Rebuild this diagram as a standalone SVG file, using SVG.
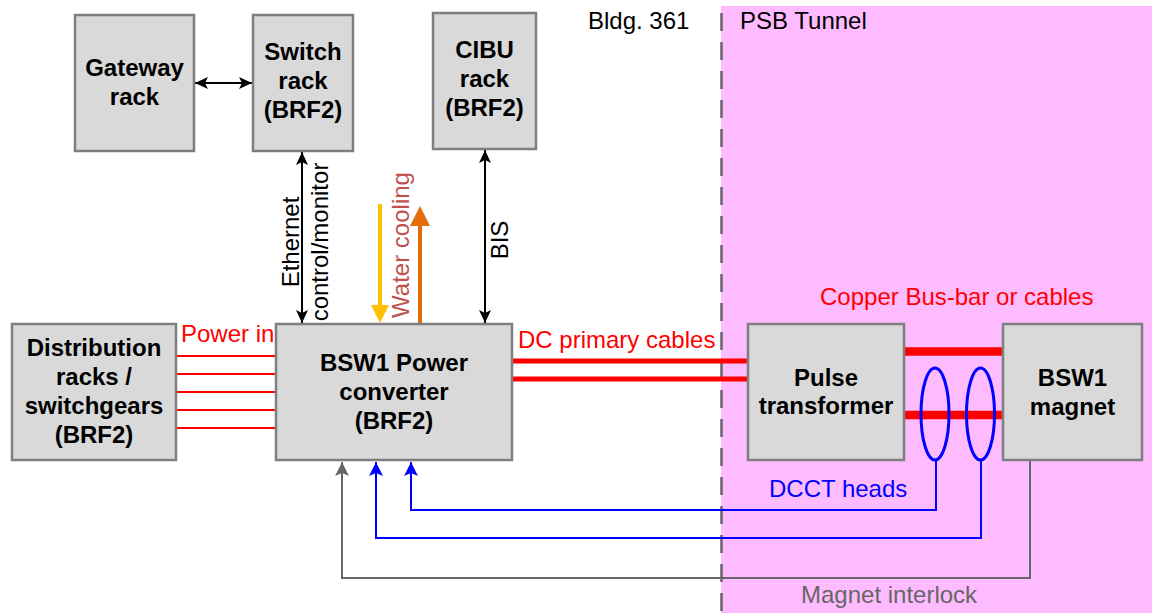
<svg xmlns="http://www.w3.org/2000/svg" width="1152" height="613" viewBox="0 0 1152 613">
<style>
.box{fill:#D9D9D9;stroke:#7F7F7F;stroke-width:2.5}
.bt{font-family:"Liberation Sans",Arial,sans-serif;font-size:24px;font-weight:bold;fill:#000;text-anchor:middle}
.t{font-family:"Liberation Sans",Arial,sans-serif;font-size:24px;fill:#000}
.blk{stroke:#000;stroke-width:2;fill:none}
.red{stroke:#FF0000;fill:none}
.blue{stroke:#0000FF;stroke-width:2;fill:none}
.gray{stroke:#666666;stroke-width:2;fill:none}
</style>
<defs>
<marker id="ab" markerUnits="userSpaceOnUse" markerWidth="14" markerHeight="12" refX="13" refY="6" orient="auto-start-reverse"><path d="M0,0 L13,6 L0,12 L3,6 Z" fill="#000"/></marker>
<marker id="abl" markerUnits="userSpaceOnUse" markerWidth="15" markerHeight="14" refX="14" refY="7" orient="auto"><path d="M0,0 L14,7 L0,14 L3,7 Z" fill="#0000FF"/></marker>
<marker id="agr" markerUnits="userSpaceOnUse" markerWidth="15" markerHeight="14" refX="14" refY="7" orient="auto"><path d="M0,0 L14,7 L0,14 L3,7 Z" fill="#666666"/></marker>
</defs>

<rect x="721" y="6" width="431" height="607" fill="#FFBBFF"/>
<line x1="721.5" y1="13" x2="721.5" y2="613" stroke="#666666" stroke-width="2.5" stroke-dasharray="18,11"/>
<text class="t" x="588" y="29">Bldg. 361</text>
<text class="t" x="740" y="29">PSB Tunnel</text>

<g id="connectors">
  <line class="blk" x1="195" y1="83" x2="252" y2="83" marker-start="url(#ab)" marker-end="url(#ab)"/>
  <line class="blk" x1="302" y1="152" x2="302" y2="323" marker-start="url(#ab)" marker-end="url(#ab)"/>
  <line class="blk" x1="485" y1="150" x2="485" y2="323" marker-start="url(#ab)" marker-end="url(#ab)"/>
  <text class="t" transform="translate(299,242) rotate(-90)" text-anchor="middle">Ethernet</text>
  <text class="t" transform="translate(328,242) rotate(-90)" text-anchor="middle">control/monitor</text>
  <text class="t" transform="translate(508,240) rotate(-90)" text-anchor="middle">BIS</text>
  <line x1="380" y1="204" x2="380" y2="306" stroke="#FFC000" stroke-width="4"/>
  <path d="M371,305 L389,305 L380,323 Z" fill="#FFC000"/>
  <line x1="420" y1="324" x2="420" y2="224" stroke="#E46C0A" stroke-width="4"/>
  <path d="M410,226 L430,226 L420,206 Z" fill="#E46C0A"/>
  <text class="t" transform="translate(409,245) rotate(-90)" text-anchor="middle" style="fill:#C0504D">Water cooling</text>
  <g class="red" stroke-width="2">
    <line x1="176" y1="356" x2="276" y2="356"/>
    <line x1="176" y1="374" x2="276" y2="374"/>
    <line x1="176" y1="392" x2="276" y2="392"/>
    <line x1="176" y1="410" x2="276" y2="410"/>
    <line x1="176" y1="428" x2="276" y2="428"/>
  </g>
  <text class="t" x="181" y="342" style="fill:#FF0000">Power in</text>
  <g class="red" stroke-width="5">
    <line x1="512" y1="361" x2="748" y2="361"/>
    <line x1="512" y1="379" x2="748" y2="379"/>
  </g>
  <text class="t" x="518" y="348" style="fill:#FF0000">DC primary cables</text>
  <g class="red" stroke-width="8.5">
    <line x1="904" y1="351.5" x2="1003" y2="351.5"/>
    <line x1="904" y1="415" x2="1003" y2="415"/>
  </g>
  <text class="t" x="820" y="305" style="fill:#FF0000">Copper Bus-bar or cables</text>
  <ellipse cx="935" cy="414" rx="14" ry="46" fill="none" stroke="#0000FF" stroke-width="3"/>
  <ellipse cx="980.5" cy="414" rx="14" ry="46" fill="none" stroke="#0000FF" stroke-width="3"/>
  <polyline class="blue" points="936,460 936,510 411,510 411,462" marker-end="url(#abl)"/>
  <polyline class="blue" points="981,460 981,538 376,538 376,462" marker-end="url(#abl)"/>
  <text class="t" x="769" y="497" style="fill:#0000FF">DCCT heads</text>
  <polyline class="gray" points="1030,460 1030,578 342,578 342,462" marker-end="url(#agr)"/>
  <text class="t" x="801" y="603" style="fill:#666666">Magnet interlock</text>
</g>

<g id="gateway">
  <rect class="box" x="75" y="15" width="119" height="136"/>
  <text class="bt" x="134.5" y="76">Gateway</text>
  <text class="bt" x="134.5" y="105">rack</text>
</g>
<g id="switch">
  <rect class="box" x="253" y="15" width="100" height="136"/>
  <text class="bt" x="303" y="60">Switch</text>
  <text class="bt" x="303" y="89">rack</text>
  <text class="bt" x="303" y="118">(BRF2)</text>
</g>
<g id="cibu">
  <rect class="box" x="433" y="13" width="103" height="136"/>
  <text class="bt" x="484.5" y="58">CIBU</text>
  <text class="bt" x="484.5" y="87">rack</text>
  <text class="bt" x="484.5" y="116">(BRF2)</text>
</g>
<g id="distribution">
  <rect class="box" x="12" y="324" width="164" height="136"/>
  <text class="bt" x="94" y="356">Distribution</text>
  <text class="bt" x="94" y="385">racks /</text>
  <text class="bt" x="94" y="414">switchgears</text>
  <text class="bt" x="94" y="443">(BRF2)</text>
</g>
<g id="converter">
  <rect class="box" x="276" y="324" width="236" height="136"/>
  <text class="bt" x="394" y="371">BSW1 Power</text>
  <text class="bt" x="394" y="400">converter</text>
  <text class="bt" x="394" y="429">(BRF2)</text>
</g>
<g id="pulse">
  <rect class="box" x="748" y="324" width="156" height="136"/>
  <text class="bt" x="826" y="386">Pulse</text>
  <text class="bt" x="826" y="414">transformer</text>
</g>
<g id="magnet">
  <rect class="box" x="1003" y="324" width="139" height="136"/>
  <text class="bt" x="1072.5" y="386">BSW1</text>
  <text class="bt" x="1072.5" y="415">magnet</text>
</g>
</svg>
